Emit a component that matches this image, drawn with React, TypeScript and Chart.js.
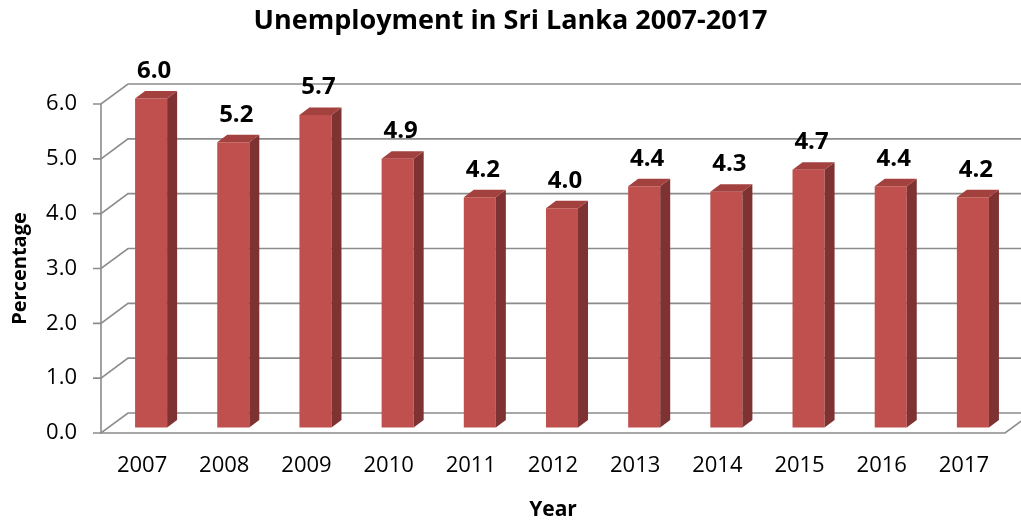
import React, { useEffect, useRef } from "react";
import { Chart, registerables } from "chart.js";

Chart.register(...registerables);

const categories = ["2007", "2008", "2009", "2010", "2011", "2012", "2013", "2014", "2015", "2016", "2017"];
const unemployment = [6.0, 5.2, 5.7, 4.9, 4.2, 4.0, 4.4, 4.3, 4.7, 4.4, 4.2];
const yTicks = [0, 1, 2, 3, 4, 5, 6];

const FONT = "'Open Sans', 'Noto Sans', sans-serif";
const FRONT = "#C0504D";
const SIDE = "#7E3231";
const TOP = "#A3413E";
const GRID = "#8C8C8C";

// 3D geometry (pixels)
const BACK_DX = 27;
const BACK_DY = -20;
const BAR_DX = 9;
const BAR_DY = -5.5;
const DEPTH_DX = 10;
const DEPTH_DY = -7.5;

const threeD = {
  id: "threeD",
  beforeDatasetsDraw(chart: any) {
    const { ctx, chartArea, scales } = chart;
    const { left, right, top, bottom } = chartArea;
    const y = scales.y;
    ctx.save();
    ctx.strokeStyle = GRID;
    ctx.lineWidth = 1.6;
    ctx.lineCap = "butt";
    for (const v of yTicks) {
      const py = y.getPixelForValue(v);
      ctx.beginPath();
      ctx.moveTo(left - 8, py);
      ctx.lineTo(left, py);
      ctx.lineTo(left + BACK_DX, py + BACK_DY);
      ctx.lineTo(chart.width + 5, py + BACK_DY);
      ctx.stroke();
    }
    ctx.beginPath();
    ctx.moveTo(left, top);
    ctx.lineTo(left, bottom);
    ctx.lineTo(right, bottom);
    ctx.lineTo(right + BACK_DX, bottom + BACK_DY);
    ctx.stroke();
    ctx.restore();
    ctx.save();
    ctx.translate(BAR_DX, BAR_DY);
  },
  afterDatasetsDraw(chart: any) {
    const { ctx } = chart;
    ctx.restore();
    const meta = chart.getDatasetMeta(0);
    ctx.save();
    meta.data.forEach((bar: any, i: number) => {
      const p = bar.getProps(["x", "y", "base", "width"], true);
      const xl = p.x - p.width / 2 + BAR_DX;
      const xr = p.x + p.width / 2 + BAR_DX;
      const yt = p.y + BAR_DY;
      const yb = p.base + BAR_DY;
      ctx.fillStyle = SIDE;
      ctx.beginPath();
      ctx.moveTo(xr, yt);
      ctx.lineTo(xr + DEPTH_DX, yt + DEPTH_DY);
      ctx.lineTo(xr + DEPTH_DX, yb + DEPTH_DY);
      ctx.lineTo(xr, yb);
      ctx.closePath();
      ctx.fill();
      ctx.fillStyle = TOP;
      ctx.beginPath();
      ctx.moveTo(xl, yt);
      ctx.lineTo(xl + DEPTH_DX, yt + DEPTH_DY);
      ctx.lineTo(xr + DEPTH_DX, yt + DEPTH_DY);
      ctx.lineTo(xr, yt);
      ctx.closePath();
      ctx.fill();
      ctx.fillStyle = "#000";
      ctx.font = `bold 24px ${FONT}`;
      ctx.textAlign = "center";
      ctx.textBaseline = "middle";
      ctx.fillText(unemployment[i].toFixed(1), p.x + BAR_DX + 3, yt + DEPTH_DY - 20);
    });
    ctx.restore();
  },
};

export default function App() {
  const ref = useRef<HTMLCanvasElement | null>(null);
  useEffect(() => {
    if (!ref.current) return;
    const chart = new Chart(ref.current, {
      type: "bar",
      data: {
        labels: categories,
        datasets: [
          {
            data: unemployment,
            backgroundColor: FRONT,
            borderWidth: 0,
            barPercentage: 0.39,
            categoryPercentage: 1,
            clip: false as any,
          },
        ],
      },
      options: {
        animation: false,
        responsive: true,
        maintainAspectRatio: false,
        layout: { padding: { left: 0, right: 0, top: 0, bottom: 0 } },
        plugins: {
          legend: { display: false },
          tooltip: { enabled: false },
          title: {
            display: true,
            text: "Unemployment in Sri Lanka 2007-2017",
            color: "#000",
            font: { family: FONT, size: 27, weight: "bold", lineHeight: 1.2 },
            padding: { top: 5, bottom: 66.6 },
          },
        },
        scales: {
          x: {
            grid: { display: false, drawTicks: false },
            border: { display: false },
            ticks: { color: "#000", font: { family: FONT, size: 22 }, padding: 20, maxRotation: 0 },
            title: {
              display: true,
              text: "Year",
              color: "#000",
              font: { family: FONT, size: 21, weight: "bold", lineHeight: 1.2 },
              padding: { top: 0, bottom: -3 },
            },
            afterFit(scale: any) {
              scale.height = 87;
            },
          },
          y: {
            min: 0,
            max: 6,
            grid: { display: false, drawTicks: false },
            border: { display: false },
            ticks: {
              stepSize: 1,
              color: "#000",
              font: { family: FONT, size: 22 },
              padding: 24,
              callback: (v: any) => Number(v).toFixed(1),
            },
            title: {
              display: true,
              text: "Percentage",
              color: "#000",
              font: { family: FONT, size: 20, weight: "bold", lineHeight: 1.2 },
              padding: { top: 8, bottom: 0 },
            },
            afterFit(scale: any) {
              scale.width = 101;
            },
          },
          yRight: {
            position: "right",
            display: true,
            min: 0,
            max: 6,
            grid: { display: false, drawTicks: false },
            border: { display: false },
            ticks: { display: false },
            afterFit(scale: any) {
              scale.width = 16;
            },
          },
        },
      },
      plugins: [threeD],
    });
    return () => chart.destroy();
  }, []);
  return (
    <div style={{ position: "absolute", left: 0, top: 0, width: 1021, height: 520, background: "#fff" }}>
      <canvas ref={ref} />
    </div>
  );
}
